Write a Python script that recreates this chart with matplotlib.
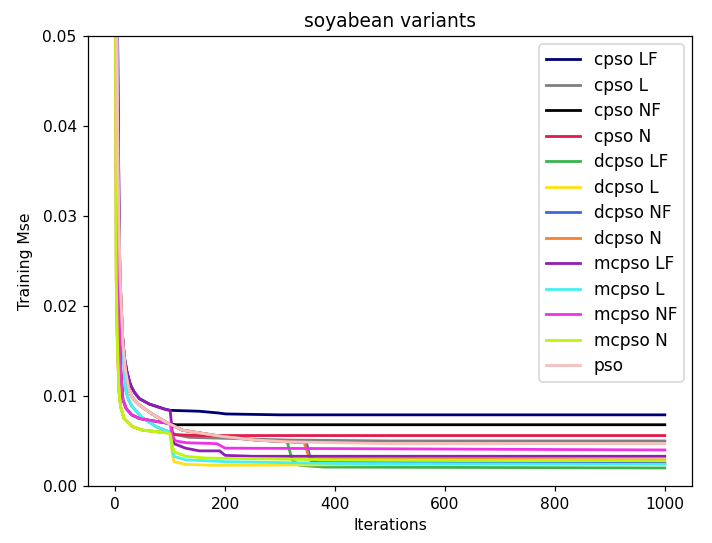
import matplotlib
matplotlib.use('Agg')
import matplotlib.pyplot as plt

# (iterations, training mse), per variant
pso_it = [0, 2, 5, 9, 14, 19, 25, 31, 44, 67, 92, 122, 153, 195, 256, 316, 500, 1000]
pso_mse = [0.15, 0.06, 0.035, 0.0229, 0.016, 0.0128, 0.0107, 0.0098, 0.0090, 0.0080, 0.0071,
           0.0062, 0.0059, 0.0055, 0.0051, 0.0049, 0.0047, 0.0047]

mcpso_lf_it = [0, 3, 8, 12, 17, 22, 28, 35, 44, 62, 92, 100, 104, 107, 128, 153, 190, 200, 250, 1000]
mcpso_lf_mse = [0.15, 0.06, 0.023, 0.0175, 0.0142, 0.0125, 0.0112, 0.0104, 0.0097, 0.0091, 0.0085,
                0.0084, 0.0060, 0.0047, 0.0042, 0.0039, 0.0039, 0.0034, 0.0033, 0.0033]

cpso_lf_it = [0, 3, 8, 12, 17, 22, 28, 35, 44, 62, 92, 100, 153, 189, 201, 300, 1000]
cpso_lf_mse = [0.15, 0.06, 0.023, 0.0175, 0.0142, 0.0125, 0.0112, 0.0104, 0.0097, 0.0091, 0.0085,
               0.0084, 0.0083, 0.0081, 0.0080, 0.0079, 0.0079]

mcpso_nf_it = [0, 2, 6, 10, 14, 20, 30, 44, 62, 92, 100, 104, 110, 130, 185, 200, 600, 1000]
mcpso_nf_mse = [0.15, 0.05, 0.0229, 0.013, 0.0096, 0.0086, 0.0079, 0.0075, 0.0073, 0.0070,
                0.0069, 0.0055, 0.0050, 0.0048, 0.0047, 0.0042, 0.0041, 0.0040]

cpso_nf_it = [0, 2, 6, 10, 14, 20, 30, 44, 62, 92, 100, 110, 1000]
cpso_nf_mse = [0.15, 0.05, 0.0229, 0.013, 0.0096, 0.0086, 0.0079, 0.0075, 0.0073, 0.0070,
               0.0069, 0.0068, 0.0068]

mcpso_l_it = [0, 2, 6, 10, 19, 24, 31, 49, 74, 95, 100, 104, 107, 128, 200, 400, 1000]
mcpso_l_mse = [0.15, 0.06, 0.03, 0.019, 0.0107, 0.0096, 0.0088, 0.0076, 0.0066, 0.0061,
               0.0060, 0.0042, 0.0033, 0.0029, 0.0027, 0.0025, 0.0024]

cpso_l_it = [0, 2, 6, 10, 19, 24, 31, 49, 74, 95, 100, 110, 135, 316, 500, 1000]
cpso_l_mse = [0.15, 0.06, 0.03, 0.019, 0.0107, 0.0096, 0.0088, 0.0076, 0.0066, 0.0061,
              0.0060, 0.0057, 0.0054, 0.0051, 0.0050, 0.0050]

mcpso_n_it = [0, 1, 2, 4, 7, 10, 16, 31, 50, 80, 95, 100, 104, 107, 128, 165, 400, 1000]
mcpso_n_mse = [0.12, 0.05, 0.0229, 0.016, 0.0105, 0.0088, 0.0075, 0.0066, 0.0062, 0.0060,
               0.0059, 0.0058, 0.0045, 0.0038, 0.0033, 0.0031, 0.0029, 0.0028]

cpso_n_it = [0, 1, 2, 4, 7, 10, 16, 31, 50, 80, 95, 100, 110, 150, 1000]
cpso_n_mse = [0.12, 0.05, 0.0229, 0.016, 0.0105, 0.0088, 0.0075, 0.0066, 0.0062, 0.0060,
              0.0059, 0.0059, 0.0057, 0.0056, 0.0056]

dcpso_l_it = [0, 1, 2, 4, 7, 10, 16, 31, 50, 80, 95, 100, 104, 107, 128, 177, 600, 1000]
dcpso_l_mse = [0.12, 0.05, 0.0229, 0.016, 0.0105, 0.0088, 0.0075, 0.0066, 0.0062, 0.0060,
               0.0059, 0.0058, 0.0035, 0.0027, 0.0024, 0.0023, 0.0024, 0.0025]

dcpso_lf_it = [0, 2, 5, 9, 14, 19, 25, 31, 44, 67, 92, 122, 153, 195, 256, 313, 322, 335, 380, 1000]
dcpso_lf_mse = [0.15, 0.06, 0.035, 0.0229, 0.016, 0.0128, 0.0107, 0.0098, 0.0090, 0.0080, 0.0071,
                0.0062, 0.0059, 0.0055, 0.0051, 0.0049, 0.0029, 0.0023, 0.0021, 0.0020]

dcpso_nf_it = [0, 2, 5, 9, 14, 19, 25, 31, 44, 67, 92, 122, 153, 195, 256, 316, 348, 356, 370, 1000]
dcpso_nf_mse = [0.15, 0.06, 0.035, 0.0229, 0.016, 0.0128, 0.0107, 0.0098, 0.0090, 0.0080, 0.0071,
                0.0062, 0.0059, 0.0055, 0.0051, 0.0049, 0.0048, 0.0028, 0.0026, 0.0025]

dcpso_n_it = [0, 2, 5, 9, 14, 19, 25, 31, 44, 67, 92, 122, 153, 195, 256, 316, 344, 353, 365, 1000]
dcpso_n_mse = [0.15, 0.06, 0.035, 0.0229, 0.016, 0.0128, 0.0107, 0.0098, 0.0090, 0.0080, 0.0071,
               0.0062, 0.0059, 0.0055, 0.0051, 0.0049, 0.0048, 0.0031, 0.0030, 0.0029]

series = [
    ('cpso LF', cpso_lf_it, cpso_lf_mse, '#000075'),
    ('cpso L', cpso_l_it, cpso_l_mse, '#808080'),
    ('cpso NF', cpso_nf_it, cpso_nf_mse, '#000000'),
    ('cpso N', cpso_n_it, cpso_n_mse, '#e6194b'),
    ('dcpso LF', dcpso_lf_it, dcpso_lf_mse, '#3cb44b'),
    ('dcpso L', dcpso_l_it, dcpso_l_mse, '#ffe119'),
    ('dcpso NF', dcpso_nf_it, dcpso_nf_mse, '#4363d8'),
    ('dcpso N', dcpso_n_it, dcpso_n_mse, '#f58231'),
    ('mcpso LF', mcpso_lf_it, mcpso_lf_mse, '#911eb4'),
    ('mcpso L', mcpso_l_it, mcpso_l_mse, '#46f0f0'),
    ('mcpso NF', mcpso_nf_it, mcpso_nf_mse, '#f032e6'),
    ('mcpso N', mcpso_n_it, mcpso_n_mse, '#bcf60c'),
    ('pso', pso_it, pso_mse, '#fabebe'),
]

fig = plt.figure(figsize=(6.4, 4.875), dpi=111.4)
fig.subplots_adjust(left=0.123, right=0.971, top=0.934, bottom=0.105)

for name, it, mse, color in series:
    plt.plot(it, mse, label=name, color=color, linewidth=1.8)

plt.title('soyabean variants')
plt.xlabel('Iterations')
plt.ylabel('Training Mse', labelpad=6)
plt.xlim(-50, 1050)
plt.ylim(0, 0.05)
plt.legend(loc='upper right', fontsize=11, labelspacing=0.44)
plt.savefig('out.png')
